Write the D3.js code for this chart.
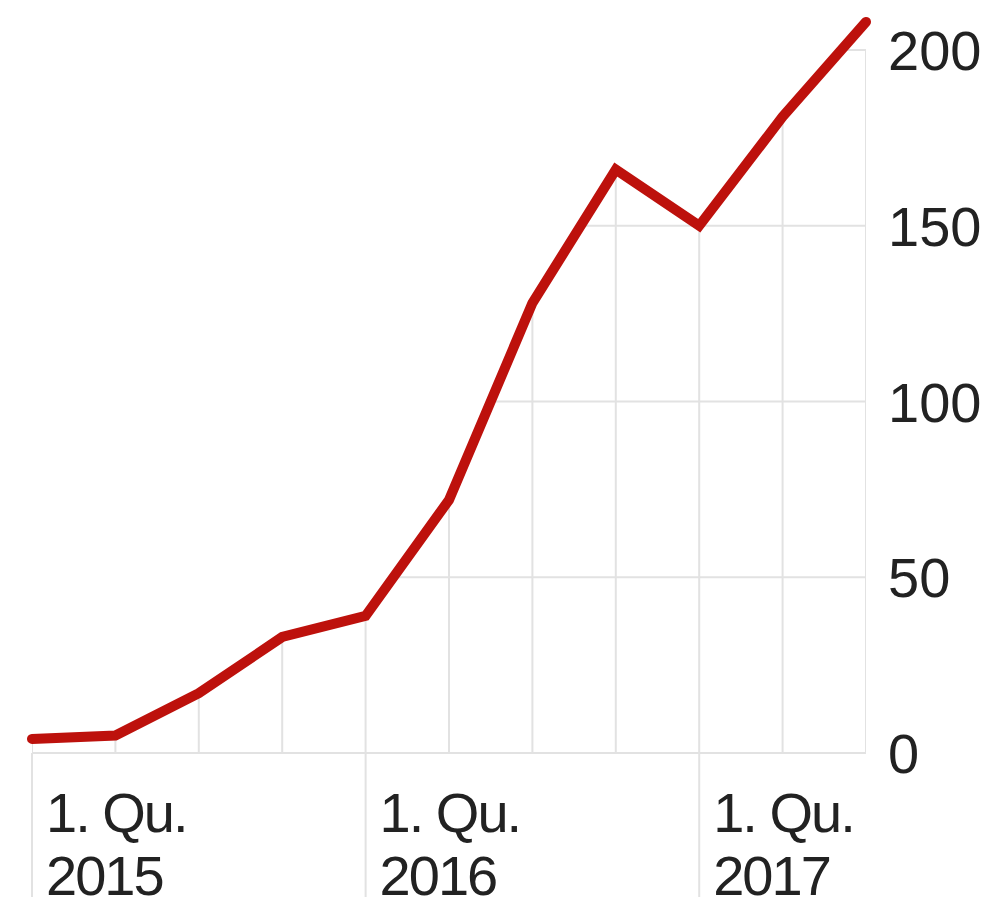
<!DOCTYPE html>
<html>
<head>
<meta charset="utf-8">
<script src="https://cdn.jsdelivr.net/npm/d3@7"></script>
<style>
  body { margin: 0; background: #fff; }
  text { font-family: "Liberation Sans", Arial, sans-serif; fill: #222; }
</style>
</head>
<body>
<div id="chart"></div>
<script>
// quarters shown on the x axis
let quarters = ['1. Qu. 2015', '2. Qu. 2015', '3. Qu. 2015', '4. Qu. 2015',
                '1. Qu. 2016', '2. Qu. 2016', '3. Qu. 2016', '4. Qu. 2016',
                '1. Qu. 2017', '2. Qu. 2017', '3. Qu. 2017'];
let values = [4, 5, 17, 33, 39, 72, 128, 166, 150, 181, 208];
let yTicks = [0, 50, 100, 150, 200];
let labelledQuarters = ['1. Qu. 2015', '1. Qu. 2016', '1. Qu. 2017'];

let width = 1000, height = 920;
let margin = {top: 50, right: 134, bottom: 167, left: 32};
let innerW = width - margin.left - margin.right;
let innerH = height - margin.top - margin.bottom;
let yearTickLen = 144; // year ticks reach below the axis

let svg = d3.select('#chart')
  .append('svg')
    .attr('width', width)
    .attr('height', height)
  .append('g')
    .attr('transform', 'translate(' + margin.left + ',' + margin.top + ')');

let x = d3.scalePoint()
  .domain(quarters)
  .range([0, innerW]);

let y = d3.scaleLinear()
  .domain([0, 200])
  .range([innerH, 0]);

let gridColor = '#e2e2e2';

// the grid is only drawn under the line
let area = d3.area()
  .x((d, i) => x(quarters[i]))
  .y0(innerH + 2)
  .y1(d => y(d));

svg.append('clipPath')
    .attr('id', 'under-line')
  .append('path')
    .datum(values)
    .attr('d', area);

let grid = svg.append('g')
  .attr('clip-path', 'url(#under-line)');

grid.selectAll('line.h')
  .data(yTicks)
  .enter()
  .append('line')
    .attr('class', 'h')
    .attr('x1', 0)
    .attr('x2', innerW)
    .attr('y1', d => y(d))
    .attr('y2', d => y(d))
    .attr('stroke', gridColor)
    .attr('stroke-width', 2);

grid.selectAll('line.v')
  .data(quarters)
  .enter()
  .append('line')
    .attr('class', 'v')
    .attr('x1', d => x(d))
    .attr('x2', d => x(d))
    .attr('y1', 0)
    .attr('y2', innerH)
    .attr('stroke', gridColor)
    .attr('stroke-width', 2);

// baseline and year ticks below the axis
svg.append('line')
  .attr('x1', 0)
  .attr('x2', innerW)
  .attr('y1', y(0))
  .attr('y2', y(0))
  .attr('stroke', gridColor)
  .attr('stroke-width', 2);

svg.append('g')
  .selectAll('line')
  .data(labelledQuarters)
  .enter()
  .append('line')
    .attr('x1', d => x(d))
    .attr('x2', d => x(d))
    .attr('y1', innerH)
    .attr('y2', innerH + yearTickLen)
    .attr('stroke', gridColor)
    .attr('stroke-width', 2);

// y labels on the right
svg.append('g')
  .selectAll('text')
  .data(yTicks)
  .enter()
  .append('text')
    .attr('x', innerW + 22)
    .attr('y', d => y(d))
    .attr('dy', '0.36em')
    .style('font-size', '56px')
    .text(d => d);

// x labels, two lines each
let xLabels = svg.append('g')
  .selectAll('text')
  .data(labelledQuarters)
  .enter()
  .append('text')
    .attr('transform', d => 'translate(' + (x(d) + 14) + ',' + (innerH + 79) + ')')
    .style('font-size', '56px')
    .style('letter-spacing', '-2px');
xLabels.append('tspan')
  .attr('x', 0)
  .text(d => d.slice(0, 6));
xLabels.append('tspan')
  .attr('x', 0)
  .attr('dy', 63)
  .text(d => d.slice(7));

// the line
let line = d3.line()
  .x((d, i) => x(quarters[i]))
  .y(d => y(d));

svg.append('path')
  .datum(values)
  .attr('d', line)
  .attr('fill', 'none')
  .attr('stroke', '#bd110c')
  .attr('stroke-width', 10)
  .attr('stroke-linejoin', 'miter')
  .attr('stroke-linecap', 'round');
</script>
</body>
</html>
